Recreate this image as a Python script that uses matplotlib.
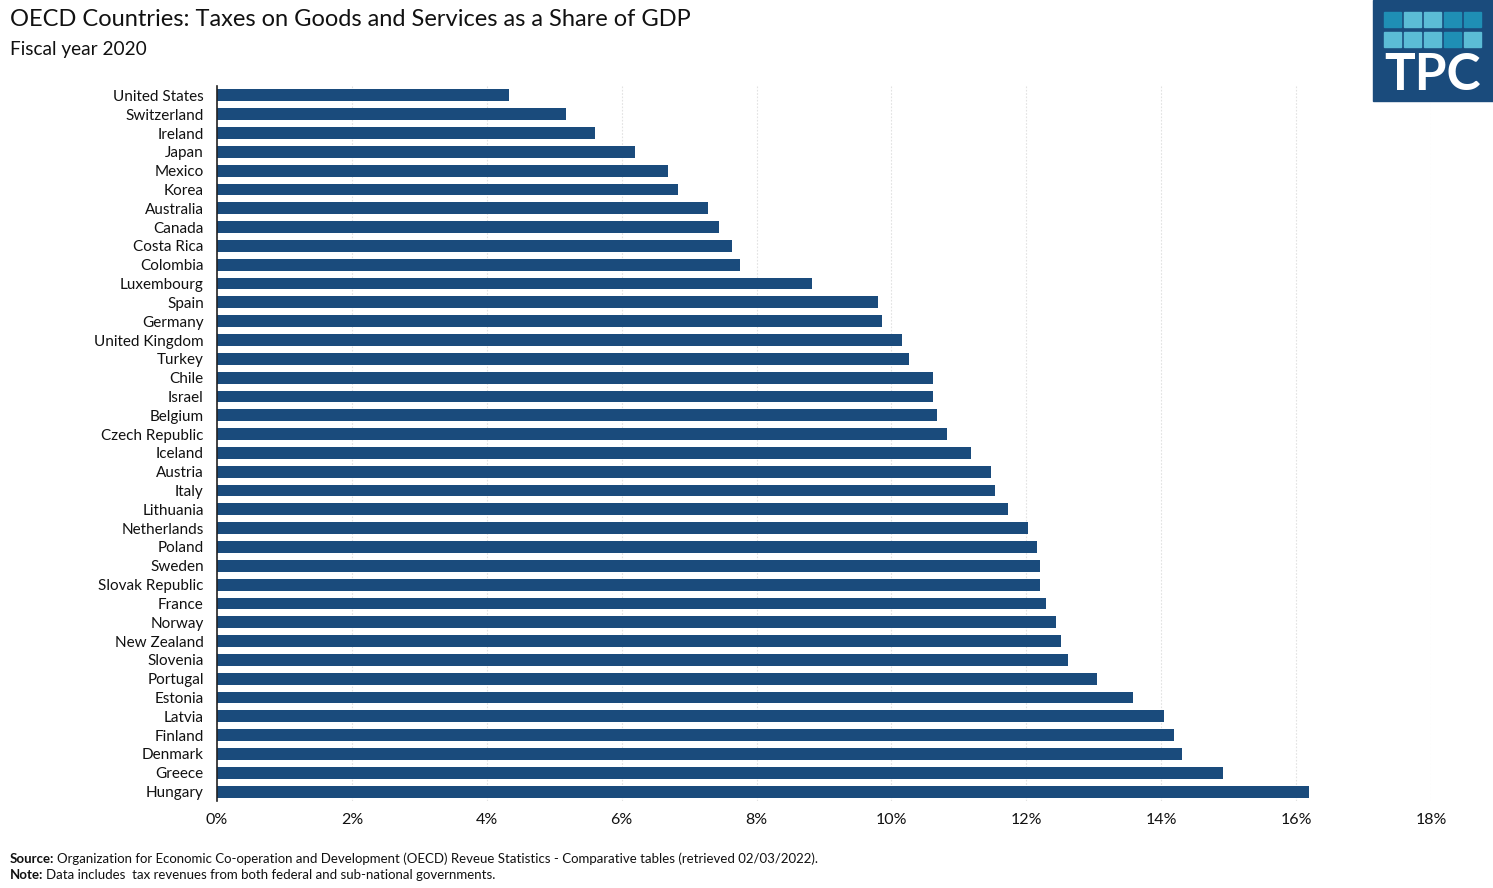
import matplotlib
matplotlib.use("Agg")
import matplotlib.pyplot as plt
from matplotlib.patches import Rectangle
from matplotlib.ticker import FuncFormatter

countries = ["United States", "Switzerland", "Ireland", "Japan", "Mexico", "Korea",
             "Australia", "Canada", "Costa Rica", "Colombia", "Luxembourg", "Spain",
             "Germany", "United Kingdom", "Turkey", "Chile", "Israel", "Belgium",
             "Czech Republic", "Iceland", "Austria", "Italy", "Lithuania", "Netherlands",
             "Poland", "Sweden", "Slovak Republic", "France", "Norway", "New Zealand",
             "Slovenia", "Portugal", "Estonia", "Latvia", "Finland", "Denmark",
             "Greece", "Hungary"]
values = [4.33, 5.17, 5.60, 6.20, 6.69, 6.84, 7.28, 7.44, 7.64, 7.75, 8.82, 9.80,
          9.86, 10.16, 10.26, 10.62, 10.62, 10.68, 10.82, 11.18, 11.48, 11.54, 11.73,
          12.03, 12.16, 12.20, 12.20, 12.29, 12.44, 12.51, 12.62, 13.05, 13.58, 14.04,
          14.19, 14.31, 14.92, 16.19]
xticks = [0, 2, 4, 6, 8, 10, 12, 14, 16, 18]

plt.rcParams['font.family'] = ['Lato', 'DejaVu Sans']

W, H = 1493, 888
fig = plt.figure(figsize=(W / 100, H / 100), dpi=100)

left, right = 217, 1431
top, bottom = 86, 801
ax = fig.add_axes([left / W, 1 - bottom / H, (right - left) / W, (bottom - top) / H])

n = len(countries)
ypos = list(range(n))
ax.barh(ypos, values, height=0.63, color="#1a4b7c", zorder=3)
ax.set_ylim(n - 0.5, -0.5)
ax.set_xlim(0, 18)
ax.set_yticks(ypos)
ax.set_yticklabels(countries, fontsize=11, color="#111111")
ax.set_xticks(xticks)
ax.xaxis.set_major_formatter(FuncFormatter(lambda v, p: f"{v:.0f}%"))
ax.tick_params(axis="x", length=0, labelsize=11.5, pad=9, colors="#111111")
ax.tick_params(axis="y", length=0, pad=9.5)
ax.grid(axis="x", color="#e2e2e2", linestyle=(0, (1.5, 1.5)), linewidth=0.8, zorder=0)
for s in ["top", "right", "bottom"]:
    ax.spines[s].set_visible(False)
ax.spines["left"].set_color("#222222")
ax.spines["left"].set_linewidth(1.2)
ax.spines["left"].set_zorder(4)

fig.text(10 / W, 1 - 19 / H, "OECD Countries: Taxes on Goods and Services as a Share of GDP",
         fontsize=17, va="center", ha="left", color="#111111")
fig.text(10 / W, 1 - 49 / H, "Fiscal year 2020", fontsize=13.7, va="center", ha="left",
         color="#111111")

fig.text(10 / W, 1 - 859 / H, "Source:", fontsize=9.5, fontweight="bold", va="center",
         ha="left", color="#111111")
fig.text(57 / W, 1 - 859 / H,
         "Organization for Economic Co-operation and Development (OECD) Reveue Statistics - Comparative tables (retrieved 02/03/2022).",
         fontsize=9.5, va="center", ha="left", color="#111111")
fig.text(10 / W, 1 - 875 / H, "Note:", fontsize=9.5, fontweight="bold", va="center",
         ha="left", color="#111111")
fig.text(46 / W, 1 - 875 / H,
         "Data includes  tax revenues from both federal and sub-national governments.",
         fontsize=9.5, va="center", ha="left", color="#111111")

# logo
lx0, ly0, lw, lh = 1373, 0, 120, 101
fig.patches.append(Rectangle((lx0 / W, 1 - (ly0 + lh) / H), lw / W, lh / H,
                             transform=fig.transFigure, color="#1a4b7c", zorder=5))
sq_colors = [["#1f8fb5", "#5bbcd6", "#5bbcd6", "#1f8fb5", "#1f8fb5"],
             ["#5bbcd6", "#5bbcd6", "#5bbcd6", "#1f8fb5", "#5bbcd6"]]
sqw, sqh = 16.5, 15
gapx, gapy = 3.6, 5
for r in range(2):
    for c in range(5):
        x = 1384 + c * (sqw + gapx)
        y = 12 + r * (sqh + gapy)
        fig.patches.append(Rectangle((x / W, 1 - (y + sqh) / H), sqw / W, sqh / H,
                                     transform=fig.transFigure, color=sq_colors[r][c], zorder=6))
fig.text(1433 / W, 1 - 75 / H, "TPC", fontsize=37, fontweight="bold", color="white",
         ha="center", va="center", zorder=7)

fig.savefig("out.png", dpi=100)
